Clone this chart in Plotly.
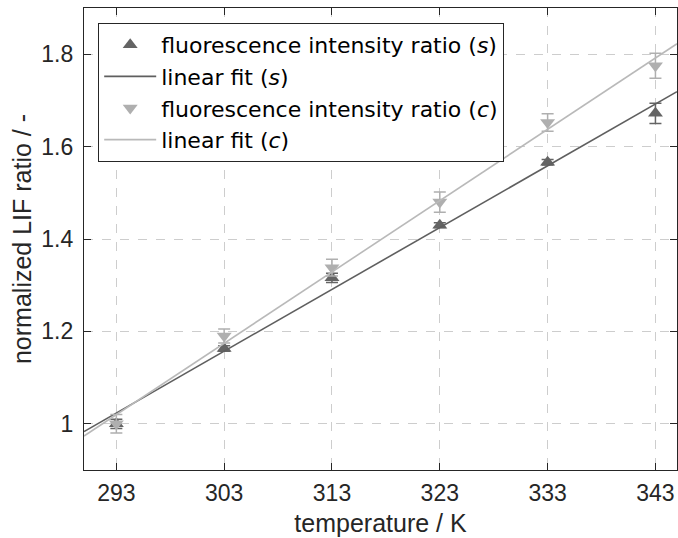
import numpy as np
import plotly.graph_objects as go

temperature = [293, 303, 313, 323, 333, 343]
ratio_s = [1.0, 1.163, 1.316, 1.43, 1.566, 1.672]
err_s = [0.01, 0.006, 0.01, 0.005, 0.006, 0.022]
ratio_c = [1.0, 1.19, 1.338, 1.48, 1.652, 1.775]
err_c = [0.02, 0.015, 0.018, 0.022, 0.019, 0.027]
fit_x = [290, 345]
x_ticks = [293, 303, 313, 323, 333, 343]
y_ticks = [1.0, 1.2, 1.4, 1.6, 1.8]
y_tick_text = ["1", "1.2", "1.4", "1.6", "1.8"]

dark = "rgb(100,100,100)"
light = "rgb(175,175,175)"
dark_line = "rgb(95,95,95)"
light_line = "rgb(185,185,185)"
ink = "rgb(38,38,38)"
FONT = "Liberation Sans, Arial, sans-serif"

ps = np.polyfit(temperature, ratio_s, 1)
pc = np.polyfit(temperature, ratio_c, 1)
fx = np.array(fit_x, dtype=float)

fig = go.Figure()
fig.add_trace(go.Scatter(
    x=temperature, y=ratio_s, mode="markers",
    name="fluorescence intensity ratio (<i>s</i>)",
    marker=dict(symbol="triangle-up", size=13, color=dark),
    error_y=dict(type="data", array=err_s, color=dark, thickness=1.5, width=6),
))
fig.add_trace(go.Scatter(
    x=fx, y=np.polyval(ps, fx), mode="lines",
    name="linear fit (<i>s</i>)",
    line=dict(color=dark_line, width=1.6),
))
fig.add_trace(go.Scatter(
    x=temperature, y=ratio_c, mode="markers",
    name="fluorescence intensity ratio (<i>c</i>)",
    marker=dict(symbol="triangle-down", size=13, color=light),
    error_y=dict(type="data", array=err_c, color=light, thickness=1.5, width=6),
))
fig.add_trace(go.Scatter(
    x=fx, y=np.polyval(pc, fx), mode="lines",
    name="linear fit (<i>c</i>)",
    line=dict(color=light_line, width=1.6),
))

axis_common = dict(
    showline=True, linecolor=ink, linewidth=1.2, mirror="ticks",
    ticks="inside", ticklen=7, tickcolor=ink, tickwidth=1.2,
    showgrid=True, gridcolor="rgb(205,205,205)", griddash="dash", gridwidth=1.2,
    zeroline=False,
    tickfont=dict(family=FONT, size=23, color=ink),
    title_font=dict(family=FONT, size=25, color=ink),
)

fig.update_xaxes(range=[290, 345], tickvals=x_ticks, title_text="temperature / K",
                 title_standoff=9, ticklabelstandoff=2, **axis_common)
fig.update_yaxes(range=[0.9, 1.9], tickvals=y_ticks, ticktext=y_tick_text,
                 title_text="normalized LIF ratio / -", title_standoff=2,
                 ticklabelstandoff=5, **axis_common)

fig.update_layout(
    width=678, height=538,
    margin=dict(l=84, r=1, t=8, b=68, autoexpand=False),
    plot_bgcolor="white", paper_bgcolor="white",
    showlegend=True,
    legend=dict(
        x=0.0236, y=0.968, xanchor="left", yanchor="top",
        bgcolor="white", bordercolor=ink, borderwidth=1.2,
        font=dict(family="DejaVu Sans, sans-serif", size=22, color="black"),
        itemwidth=52, tracegroupgap=0,
    ),
)

fig.write_html("out.html", config={"displayModeBar": False},
               post_script="document.body.style.margin='0';")
